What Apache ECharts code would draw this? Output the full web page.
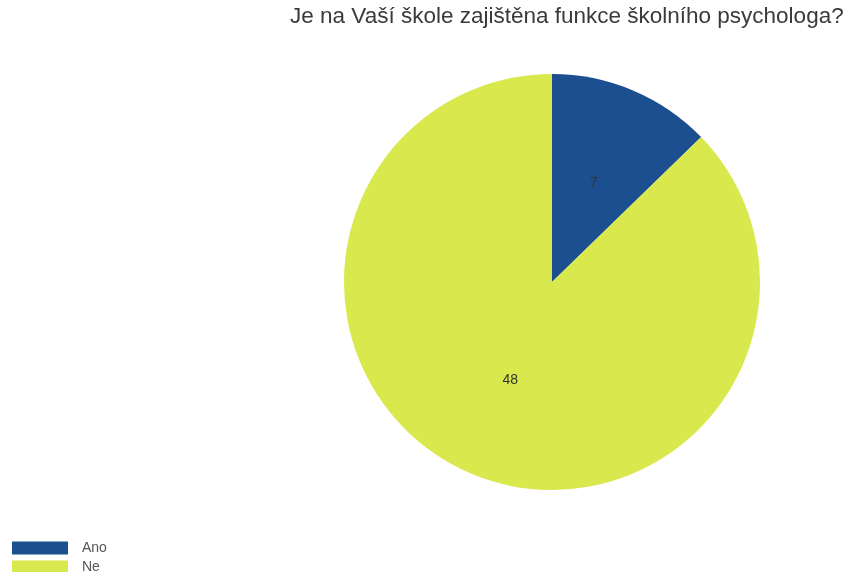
<!DOCTYPE html>
<html><head><meta charset="utf-8">
<script src="https://cdn.jsdelivr.net/npm/echarts@6/dist/echarts.min.js"></script>
<style>html,body{margin:0;padding:0;background:#fff}#c{width:847px;height:572px}</style>
</head><body><div id="c"></div>
<script>
const categories = ['Ano', 'Ne'];
const values = [7, 48];
const colors = ['#1b4f8f', '#d9e84c'];
const titleText = 'Je na Vaší škole zajištěna funkce školního psychologa?';

const chart = echarts.init(document.getElementById('c'));
chart.setOption({
  animation: false,
  title: {
    text: titleText,
    left: 290, top: 5, padding: 0,
    textStyle: { fontFamily: 'Liberation Sans, Arial, sans-serif', fontSize: 22.5, fontWeight: 'normal', color: '#3a3a3a' }
  },
  legend: {
    orient: 'vertical', left: 12, top: 541, height: 60, padding: 0,
    itemWidth: 56, itemHeight: 13, itemGap: 5,
    icon: 'rect',
    textStyle: { fontFamily: 'Liberation Sans, Arial, sans-serif', fontSize: 14, lineHeight: 13, color: '#555', padding: [0,0,0,9] },
    data: categories
  },
  series: [{
    type: 'pie',
    center: [552, 282],
    radius: 208,
    startAngle: 90,
    clockwise: true,
    color: colors,
    label: { position: 'inside', formatter: '{c}', color: '#333', fontSize: 14, fontFamily: 'Liberation Sans, Arial, sans-serif' },
    labelLine: { show: false },
    itemStyle: { borderWidth: 0 },
    emphasis: { disabled: true },
    data: categories.map((n, i) => ({ name: n, value: values[i] }))
  }]
});
</script></body></html>
